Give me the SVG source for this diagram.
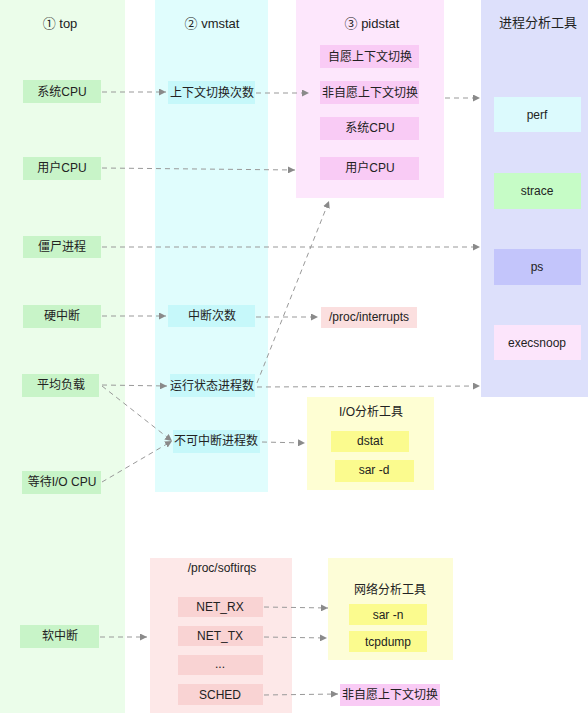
<svg xmlns="http://www.w3.org/2000/svg" width="588" height="713" viewBox="0 0 588 713">
<defs>
<marker id="arr" viewBox="0 0 10 10" refX="10" refY="5" markerWidth="7" markerHeight="7" orient="auto" markerUnits="userSpaceOnUse">
<path d="M0,0 L10,5 L0,10 z" fill="#8a8a8a"/>
</marker>
<style>
text{font-family:"Liberation Sans","Noto Sans CJK SC",sans-serif;font-size:12px;fill:#222;text-anchor:middle;dominant-baseline:central}
.h{font-size:13px}
.g{fill:#c8f4c8}
.c{fill:#c6f8fa}
.p{fill:#f9cbf5}
.y{fill:#fbfb8e}
.r{fill:#f9d3d3}
.e path, .e line{stroke:#999;stroke-width:1;stroke-dasharray:5 4;fill:none;marker-end:url(#arr)}
</style>
</defs>
<rect width="588" height="713" fill="#ffffff"/>
<g id="col-top"><rect x="0" y="0" width="125" height="713" fill="#ebfdea"/><text class="h" x="60" y="23">① top</text></g>
<g id="col-vmstat"><rect x="155" y="0" width="113" height="492" fill="#e0fdfd"/><text class="h" x="212" y="23">② vmstat</text></g>
<g id="col-pidstat"><rect x="296" y="0" width="148" height="198" fill="#fde7fc"/><text class="h" x="372" y="23">③ pidstat</text></g>
<g id="col-tools"><rect x="481" y="0" width="107" height="397" fill="#dde0fb"/><text class="h" x="538" y="22">进程分析工具</text></g>

<g id="n-top-syscpu"><rect class="g" x="23" y="80" width="78" height="23"/><text x="62" y="92">系统CPU</text></g>
<g id="n-top-usercpu"><rect class="g" x="23" y="157" width="78" height="23"/><text x="62" y="168">用户CPU</text></g>
<g id="n-zombie"><rect class="g" x="23" y="236" width="78" height="22"/><text x="62" y="247">僵尸进程</text></g>
<g id="n-hardirq"><rect class="g" x="23" y="305" width="78" height="23"/><text x="62" y="316">硬中断</text></g>
<g id="n-loadavg"><rect class="g" x="22" y="374" width="77" height="23"/><text x="61" y="385">平均负载</text></g>
<g id="n-iowait"><rect class="g" x="22" y="471" width="79" height="23"/><text x="62" y="482">等待I/O CPU</text></g>
<g id="n-softirq"><rect class="g" x="20" y="625" width="79" height="23"/><text x="60" y="636">软中断</text></g>

<g id="n-cs"><rect class="c" x="168" y="81" width="87" height="23"/><text x="212" y="93">上下文切换次数</text></g>
<g id="n-intr"><rect class="c" x="168" y="305" width="87" height="22"/><text x="212" y="316">中断次数</text></g>
<g id="n-running"><rect class="c" x="170" y="374" width="85" height="23"/><text x="212" y="386">运行状态进程数</text></g>
<g id="n-blocked"><rect class="c" x="173" y="430" width="87" height="23"/><text x="216" y="441">不可中断进程数</text></g>

<g id="n-cswch"><rect class="p" x="320" y="45" width="99" height="23"/><text x="370" y="57">自愿上下文切换</text></g>
<g id="n-nvcswch"><rect class="p" x="320" y="81" width="99" height="23"/><text x="370" y="93">非自愿上下文切换</text></g>
<g id="n-pid-syscpu"><rect class="p" x="320" y="117" width="99" height="23"/><text x="370" y="128">系统CPU</text></g>
<g id="n-pid-usercpu"><rect class="p" x="320" y="157" width="99" height="23"/><text x="370" y="168">用户CPU</text></g>

<g id="n-perf"><rect x="494" y="97" width="87" height="35" fill="#dcfafd"/><text x="537" y="115">perf</text></g>
<g id="n-strace"><rect x="494" y="173" width="87" height="36" fill="#c6fcc6"/><text x="537" y="191">strace</text></g>
<g id="n-ps"><rect x="494" y="249" width="87" height="36" fill="#c3c5fb"/><text x="537" y="267">ps</text></g>
<g id="n-execsnoop"><rect x="494" y="325" width="87" height="35" fill="#fce5fb"/><text x="537" y="343">execsnoop</text></g>

<g id="n-interrupts"><rect x="321" y="307" width="96" height="21" fill="#fbdfdf"/><text x="369" y="317">/proc/interrupts</text></g>

<g id="g-io"><rect x="307" y="397" width="127" height="93" fill="#fefed3"/><text x="371" y="412">I/O分析工具</text>
<rect class="y" x="331" y="431" width="78" height="21"/><text x="370" y="441">dstat</text>
<rect class="y" x="335" y="460" width="79" height="22"/><text x="374" y="470">sar -d</text></g>

<g id="g-softirqs"><rect x="150" y="558" width="142" height="155" fill="#fde8e8"/><text x="222" y="568">/proc/softirqs</text>
<rect class="r" x="178" y="597" width="85" height="20"/><text x="220" y="607">NET_RX</text>
<rect class="r" x="178" y="626" width="85" height="20"/><text x="220" y="636">NET_TX</text>
<rect class="r" x="178" y="655" width="85" height="20"/><text x="220" y="664">...</text>
<rect class="r" x="178" y="684" width="85" height="21"/><text x="220" y="695">SCHED</text></g>

<g id="g-net"><rect x="328" y="558" width="125" height="102" fill="#fdfdd7"/><text x="390" y="590">网络分析工具</text>
<rect class="y" x="349" y="604" width="78" height="21"/><text x="388" y="615">sar -n</text>
<rect class="y" x="349" y="631" width="78" height="21"/><text x="388" y="642">tcpdump</text></g>

<g id="n-nvcswch2"><rect class="p" x="340" y="684" width="100" height="22"/><text x="390" y="695">非自愿上下文切换</text></g>

<g id="connectors" class="e">
<line x1="102" y1="92" x2="166" y2="92"/>
<line x1="256" y1="93" x2="309" y2="93"/>
<line x1="102" y1="168" x2="295" y2="170"/>
<line x1="445" y1="98" x2="480" y2="98"/>
<line x1="102" y1="247" x2="480" y2="247"/>
<line x1="102" y1="316" x2="166" y2="316"/>
<line x1="256" y1="317" x2="318" y2="317"/>
<line x1="102" y1="385" x2="167" y2="386"/>
<line x1="102" y1="386" x2="172" y2="441"/>
<line x1="102" y1="482" x2="172" y2="441"/>
<line x1="257" y1="383" x2="329" y2="201"/>
<line x1="257" y1="387" x2="480" y2="386"/>
<line x1="262" y1="442" x2="305" y2="443"/>
<line x1="100" y1="637" x2="147" y2="637"/>
<line x1="264" y1="607" x2="328" y2="608"/>
<line x1="264" y1="637" x2="327" y2="638"/>
<line x1="264" y1="695" x2="338" y2="694"/>
</g>
</svg>
